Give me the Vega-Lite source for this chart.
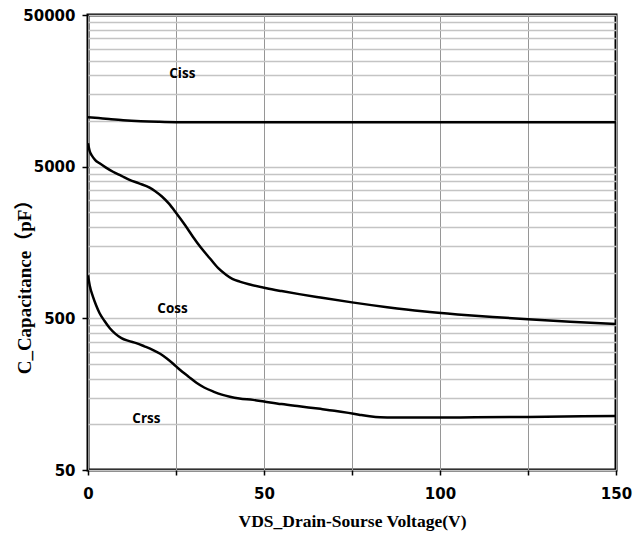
{
  "$schema": "https://vega.github.io/schema/vega-lite/v6.json",
  "width": 528,
  "height": 455,
  "autosize": {"type": "none"},
  "padding": {"left": 88, "top": 15, "right": 24, "bottom": 69},
  "background": "white",
  "config": {
    "view": {"stroke": "black", "strokeWidth": 3},
    "axis": {
      "labelFont": "DejaVu Sans",
      "labelFontWeight": "bold",
      "labelFontSize": 15,
      "labelColor": "black",
      "titleColor": "black",
      "titleFont": "'Liberation Serif', 'Noto Sans CJK SC', serif",
      "titleFontWeight": "bold"
    }
  },
  "datasets": {
    "curves": [
      {"series": "Ciss", "v": 0, "c": 10600},
      {"series": "Ciss", "v": 3, "c": 10450},
      {"series": "Ciss", "v": 6, "c": 10300},
      {"series": "Ciss", "v": 10, "c": 10120},
      {"series": "Ciss", "v": 15, "c": 9970},
      {"series": "Ciss", "v": 20, "c": 9880},
      {"series": "Ciss", "v": 25, "c": 9830},
      {"series": "Ciss", "v": 40, "c": 9820},
      {"series": "Ciss", "v": 60, "c": 9820},
      {"series": "Ciss", "v": 80, "c": 9820},
      {"series": "Ciss", "v": 100, "c": 9820},
      {"series": "Ciss", "v": 125, "c": 9815},
      {"series": "Ciss", "v": 150, "c": 9810},
      {"series": "Coss", "v": 0, "c": 7130},
      {"series": "Coss", "v": 0.5, "c": 6300},
      {"series": "Coss", "v": 1, "c": 5970},
      {"series": "Coss", "v": 2, "c": 5550},
      {"series": "Coss", "v": 3.3, "c": 5260},
      {"series": "Coss", "v": 5, "c": 4950},
      {"series": "Coss", "v": 7.1, "c": 4630},
      {"series": "Coss", "v": 9.5, "c": 4350},
      {"series": "Coss", "v": 11.8, "c": 4090},
      {"series": "Coss", "v": 14.5, "c": 3880},
      {"series": "Coss", "v": 17.5, "c": 3640},
      {"series": "Coss", "v": 19, "c": 3460},
      {"series": "Coss", "v": 21, "c": 3180},
      {"series": "Coss", "v": 23, "c": 2850},
      {"series": "Coss", "v": 25.1, "c": 2465},
      {"series": "Coss", "v": 27.5, "c": 2070},
      {"series": "Coss", "v": 29.8, "c": 1727},
      {"series": "Coss", "v": 32, "c": 1470},
      {"series": "Coss", "v": 34.6, "c": 1245},
      {"series": "Coss", "v": 37, "c": 1070},
      {"series": "Coss", "v": 39.3, "c": 966},
      {"series": "Coss", "v": 41, "c": 910},
      {"series": "Coss", "v": 43.1, "c": 873},
      {"series": "Coss", "v": 46, "c": 835},
      {"series": "Coss", "v": 50.7, "c": 789},
      {"series": "Coss", "v": 55, "c": 756},
      {"series": "Coss", "v": 60, "c": 722},
      {"series": "Coss", "v": 66, "c": 686},
      {"series": "Coss", "v": 75, "c": 637},
      {"series": "Coss", "v": 85, "c": 592},
      {"series": "Coss", "v": 95, "c": 556},
      {"series": "Coss", "v": 105, "c": 530},
      {"series": "Coss", "v": 115, "c": 510},
      {"series": "Coss", "v": 125, "c": 493},
      {"series": "Coss", "v": 137, "c": 475},
      {"series": "Coss", "v": 150, "c": 459},
      {"series": "Crss", "v": 0, "c": 960},
      {"series": "Crss", "v": 0.5, "c": 820},
      {"series": "Crss", "v": 1.4, "c": 695},
      {"series": "Crss", "v": 2.3, "c": 610},
      {"series": "Crss", "v": 3.3, "c": 540},
      {"series": "Crss", "v": 4.7, "c": 480},
      {"series": "Crss", "v": 6.2, "c": 430},
      {"series": "Crss", "v": 7.8, "c": 395},
      {"series": "Crss", "v": 9.5, "c": 370},
      {"series": "Crss", "v": 11.5, "c": 355},
      {"series": "Crss", "v": 13.7, "c": 343},
      {"series": "Crss", "v": 16, "c": 327},
      {"series": "Crss", "v": 18.5, "c": 309},
      {"series": "Crss", "v": 20.5, "c": 292},
      {"series": "Crss", "v": 22.3, "c": 273},
      {"series": "Crss", "v": 24.2, "c": 251},
      {"series": "Crss", "v": 26.1, "c": 229},
      {"series": "Crss", "v": 28.5, "c": 207},
      {"series": "Crss", "v": 30.8, "c": 188},
      {"series": "Crss", "v": 33, "c": 175},
      {"series": "Crss", "v": 35.6, "c": 164.5},
      {"series": "Crss", "v": 38, "c": 157},
      {"series": "Crss", "v": 40.3, "c": 152},
      {"series": "Crss", "v": 43, "c": 148},
      {"series": "Crss", "v": 46.9, "c": 145},
      {"series": "Crss", "v": 50, "c": 141.5},
      {"series": "Crss", "v": 55, "c": 136},
      {"series": "Crss", "v": 60, "c": 131.5},
      {"series": "Crss", "v": 66, "c": 126.5},
      {"series": "Crss", "v": 70, "c": 123},
      {"series": "Crss", "v": 74, "c": 119},
      {"series": "Crss", "v": 77, "c": 115.8},
      {"series": "Crss", "v": 80, "c": 113},
      {"series": "Crss", "v": 83, "c": 111.4},
      {"series": "Crss", "v": 87, "c": 111},
      {"series": "Crss", "v": 100, "c": 111},
      {"series": "Crss", "v": 110, "c": 111.3},
      {"series": "Crss", "v": 125, "c": 112},
      {"series": "Crss", "v": 150, "c": 113.5}
    ],
    "labels": [
      {"name": "Ciss", "v": 26.8, "c": 20400},
      {"name": "Coss", "v": 24.0, "c": 574},
      {"name": "Crss", "v": 16.6, "c": 108}
    ]
  },
  "layer": [
    {
      "data": {"name": "curves"},
      "mark": {"type": "line", "color": "black", "strokeWidth": 2.5, "interpolate": "monotone", "clip": true},
      "encoding": {
        "x": {
          "field": "v", "type": "quantitative",
          "scale": {"domain": [0, 150], "nice": false, "zero": false},
          "axis": {
            "values": [0, 25, 50, 75, 100, 125, 150],
            "labelExpr": "datum.value % 50 == 0 ? datum.label : ''",
            "labelFontSize": 15,
            "grid": true, "gridColor": "#969696", "gridWidth": 1, "gridOpacity": 1,
            "domain": false,
            "ticks": true, "tickColor": "black", "tickSize": 5, "tickWidth": 1.5,
            "labelPadding": 11, "labelFlush": false, "labelOverlap": false,
            "title": "VDS_Drain-Sourse Voltage(V)",
            "titleFontSize": 17.5, "titlePadding": 11
          }
        },
        "y": {
          "field": "c", "type": "quantitative",
          "scale": {"type": "log", "domain": [50, 50000], "nice": false},
          "axis": {
            "orient": "left",
            "values": [50, 100, 150, 200, 250, 300, 350, 400, 450, 500, 1000, 1500, 2000, 2500, 3000, 3500, 4000, 4500, 5000, 10000, 15000, 20000, 25000, 30000, 35000, 40000, 45000, 50000],
            "grid": true, "gridColor": "#c4c4c4", "gridWidth": 1.3, "gridOpacity": 1,
            "labels": false, "ticks": false, "domain": false, "title": null
          }
        },
        "detail": {"field": "series"}
      }
    },
    {
      "data": {"name": "labels"},
      "mark": {"type": "text", "font": "Open Sans", "fontWeight": "bold", "fontSize": 13.5, "color": "black", "align": "center", "baseline": "middle"},
      "encoding": {
        "x": {"field": "v", "type": "quantitative"},
        "y": {
          "field": "c", "type": "quantitative",
          "axis": {
            "orient": "left",
            "values": [50, 500, 5000, 50000],
            "format": "d",
            "labelFontSize": 15,
            "grid": false, "domain": false,
            "ticks": true, "tickColor": "black", "tickSize": 6, "tickWidth": 1.5,
            "labelPadding": 7, "labelFlush": false, "labelOverlap": false,
            "title": "C_Capacitance（pF）",
            "titleFontSize": 19,
            "titleAngle": -90, "titleAlign": "center", "titleBaseline": "middle",
            "titleX": -64, "titleY": 267
          }
        },
        "text": {"field": "name"}
      }
    }
  ],
  "resolve": {"axis": {"y": "independent"}}
}
